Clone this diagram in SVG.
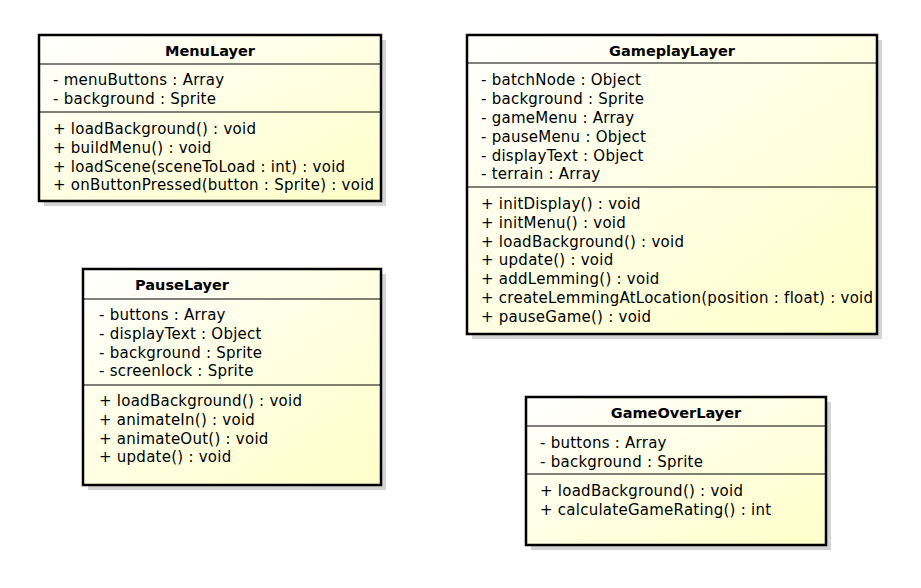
<svg xmlns="http://www.w3.org/2000/svg" width="921" height="588" viewBox="0 0 921 588">
<defs>
<linearGradient id="g" x1="0" y1="0" x2="1" y2="1">
<stop offset="0" stop-color="#ffffff"/>
<stop offset="1" stop-color="#ffffc8"/>
</linearGradient>
</defs>
<style>
.sh{fill:#d4d4d4}
.bx{fill:url(#g);stroke:#000;stroke-width:2.5}
.ln{stroke:#000;stroke-width:1}
text{font-family:"DejaVu Sans",sans-serif;font-size:15px;letter-spacing:0.25px;fill:#000}
.t{font-weight:bold;text-anchor:middle;font-size:14.5px;letter-spacing:0}
</style>
<rect width="921" height="588" fill="#fff"/>
<g id="connectors"/>
<g id="MenuLayer">
<rect class="sh" x="44" y="40" width="342" height="166"/>
<rect class="bx" x="39" y="35" width="342" height="166"/>
<line class="ln" x1="39" y1="64" x2="381" y2="64"/>
<line class="ln" x1="39" y1="112" x2="381" y2="112"/>
<text class="t" x="210" y="56">MenuLayer</text>
<text x="53" y="85">- menuButtons : Array</text>
<text x="53" y="104">- background : Sprite</text>
<text x="53" y="134">+ loadBackground() : void</text>
<text x="53" y="153">+ buildMenu() : void</text>
<text x="53" y="172">+ loadScene(sceneToLoad : int) : void</text>
<text x="53" y="190">+ onButtonPressed(button : Sprite) : void</text>
</g>
<g id="GameplayLayer">
<rect class="sh" x="472" y="40" width="410" height="299"/>
<rect class="bx" x="467" y="35" width="410" height="299"/>
<line class="ln" x1="467" y1="63" x2="877" y2="63"/>
<line class="ln" x1="467" y1="187" x2="877" y2="187"/>
<text class="t" x="672" y="56">GameplayLayer</text>
<text x="481" y="85">- batchNode : Object</text>
<text x="481" y="104">- background : Sprite</text>
<text x="481" y="123">- gameMenu : Array</text>
<text x="481" y="142">- pauseMenu : Object</text>
<text x="481" y="161">- displayText : Object</text>
<text x="481" y="179">- terrain : Array</text>
<text x="481" y="209">+ initDisplay() : void</text>
<text x="481" y="228">+ initMenu() : void</text>
<text x="481" y="247">+ loadBackground() : void</text>
<text x="481" y="265">+ update() : void</text>
<text x="481" y="284">+ addLemming() : void</text>
<text x="481" y="303">+ createLemmingAtLocation(position : float) : void</text>
<text x="481" y="322">+ pauseGame() : void</text>
</g>
<g id="PauseLayer">
<rect class="sh" x="88" y="274" width="298" height="216"/>
<rect class="bx" x="83" y="269" width="298" height="216"/>
<line class="ln" x1="83" y1="299" x2="381" y2="299"/>
<line class="ln" x1="83" y1="385" x2="381" y2="385"/>
<text class="t" x="182" y="290">PauseLayer</text>
<text x="99" y="320">- buttons : Array</text>
<text x="99" y="339">- displayText : Object</text>
<text x="99" y="358">- background : Sprite</text>
<text x="99" y="376">- screenlock : Sprite</text>
<text x="99" y="406">+ loadBackground() : void</text>
<text x="99" y="425">+ animateIn() : void</text>
<text x="99" y="444">+ animateOut() : void</text>
<text x="99" y="462">+ update() : void</text>
</g>
<g id="GameOverLayer">
<rect class="sh" x="531" y="402" width="300" height="148"/>
<rect class="bx" x="526" y="397" width="300" height="148"/>
<line class="ln" x1="526" y1="426" x2="826" y2="426"/>
<line class="ln" x1="526" y1="474" x2="826" y2="474"/>
<text class="t" x="676" y="418">GameOverLayer</text>
<text x="540" y="448">- buttons : Array</text>
<text x="540" y="467">- background : Sprite</text>
<text x="540" y="496">+ loadBackground() : void</text>
<text x="540" y="515">+ calculateGameRating() : int</text>
</g>
</svg>
